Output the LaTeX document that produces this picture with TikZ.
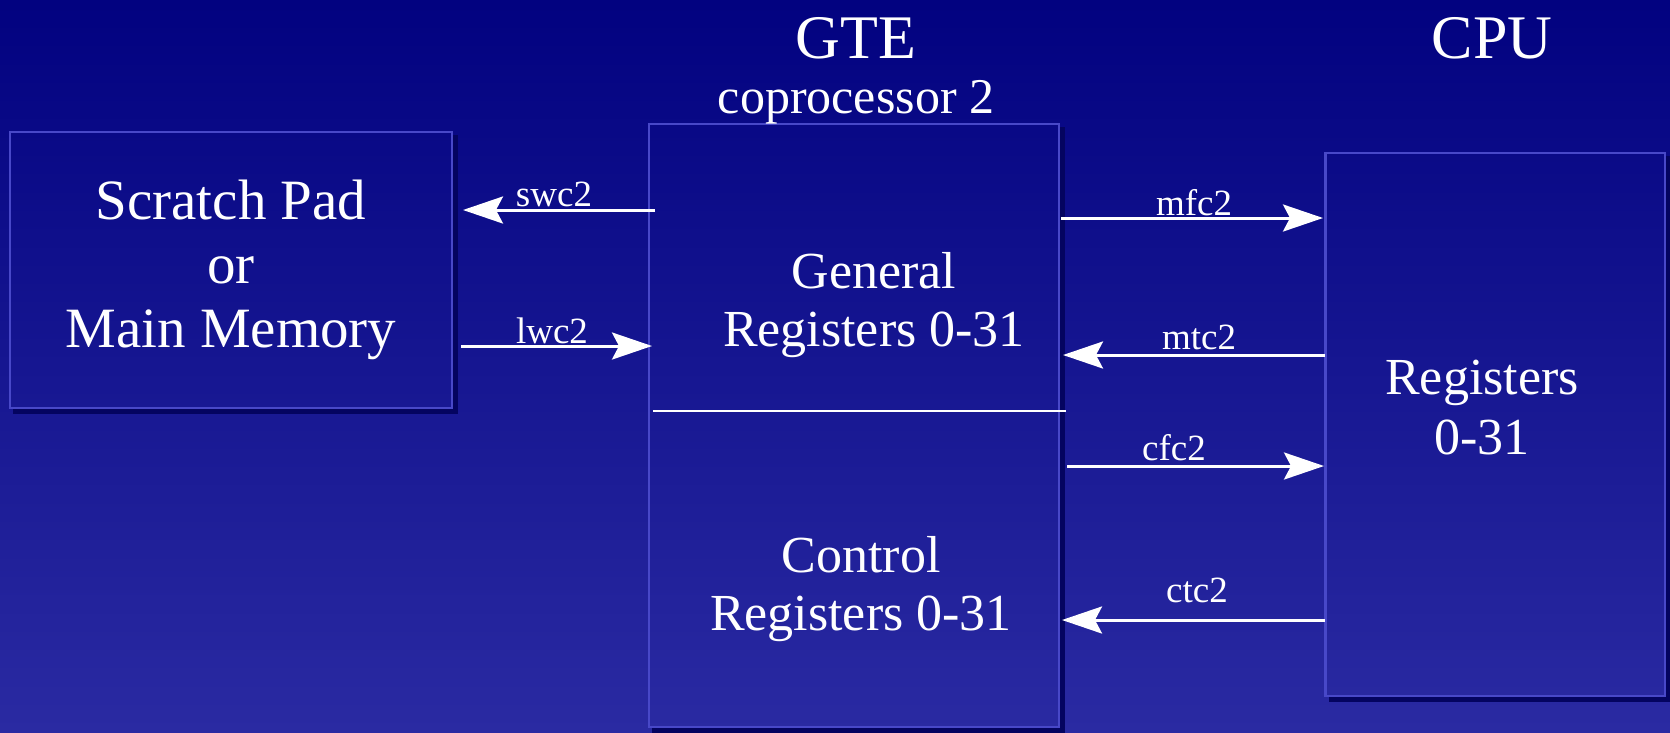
\documentclass[tikz,border=0pt]{standalone}
\usepackage{fontspec}
\setmainfont{Liberation Serif}
\usetikzlibrary{arrows.meta}
\definecolor{skytop}{RGB}{2,2,128}
\definecolor{skybottom}{RGB}{42,42,162}
\definecolor{panelrim}{RGB}{72,72,200}
\definecolor{panelshade}{RGB}{4,4,96}

\tikzset{
  panel/.style={draw=panelrim, line width=2.5pt, inner sep=0pt, outer sep=0pt,
    text=white, align=center},
  drop/.style={draw=panelshade, line width=5pt},
  flow/.style={->, draw=white, line width=3pt},
  tag/.style={text=white, anchor=base, inner sep=0pt, font=\fontsize{37}{40}\selectfont},
  regtext/.style={text=white, align=center, inner sep=0pt, font=\fontsize{52}{58}\selectfont},
  heading/.style={text=white, anchor=base, inner sep=0pt, font=\fontsize{62}{66}\selectfont}
}

\begin{document}
\begin{tikzpicture}[x=1pt, y=-1pt, >={Stealth[length=40pt, width=27pt, inset=7pt]}]
        % backdrop
        \useasboundingbox (0,0) rectangle (1670,732);
        \shade[top color=skytop, bottom color=skybottom] (0,0) rectangle (1670,732);

        % the three boxes
        \node[panel, minimum width=442pt, minimum height=276pt,
          font=\fontsize{57}{64}\selectfont] (mem) at (231,270)
          {Scratch Pad\\or\\Main Memory};
        \node[panel, minimum width=410pt, minimum height=603pt] (gte) at (854,425.5) {};
        \node[panel, minimum width=339.5pt, minimum height=543pt] (cpu) at (1495.25,424.5) {};
        \draw[drop] ([shift={(3,3)}]mem.north east) |- ([shift={(3,3)}]mem.south west);
        \draw[drop] ([shift={(3,3)}]gte.north east) |- ([shift={(3,3)}]gte.south west);
        \draw[drop] ([shift={(3,3)}]cpu.north east) |- ([shift={(3,3)}]cpu.south west);
        \draw[white, line width=2.5pt, shorten <=4pt, shorten >=-7pt]
          (gte.west |- 0,411) -- (gte.east |- 0,411);

        % headings and register banks
        \node[heading] (gtehead) at (856,58) {GTE};
        \node[heading] (cpuhead) at (1492,58) {CPU};
        \node[heading, font=\fontsize{50}{54}\selectfont] (gtesub) at (856,113) {coprocessor 2};
        \node[regtext] (gen) at (874,305) {General\\Registers 0-31};
        \node[regtext] (ctl) at (861,589) {Control\\Registers 0-31};
        \node[regtext, font=\fontsize{52}{60}\selectfont] (cpuregs) at (1482,408) {Registers\\0-31};

        % load / store with memory
        \draw[flow, shorten <=-6pt, shorten >=11pt] (gte.west |- 0,210) -- (mem.east |- 0,210);
        \draw[flow, shorten <=9pt, shorten >=-3pt] (mem.east |- 0,346) -- (gte.west |- 0,346);
        \node[tag] (swc) at (554,206) {swc2};
        \node[tag] (lwc) at (552,343) {lwc2};

        % moves to and from the cpu
        \draw[flow, shorten <=2pt, shorten >=2.5pt] (gte.east |- 0,218) -- (cpu.west |- 0,218);
        \draw[flow, shorten <=1pt, shorten >=4pt] (cpu.west |- 0,355) -- (gte.east |- 0,355);
        \draw[flow, shorten <=8pt, shorten >=1.5pt] (gte.east |- 0,466) -- (cpu.west |- 0,466);
        \draw[flow, shorten <=1pt, shorten >=3pt] (cpu.west |- 0,620) -- (gte.east |- 0,620);
        \node[tag] (mfc) at (1194,215) {mfc2};
        \node[tag] (mtc) at (1199,349) {mtc2};
        \node[tag] (cfc) at (1174,460) {cfc2};
        \node[tag] (ctc) at (1197,602) {ctc2};
      \end{tikzpicture}
\end{document}
